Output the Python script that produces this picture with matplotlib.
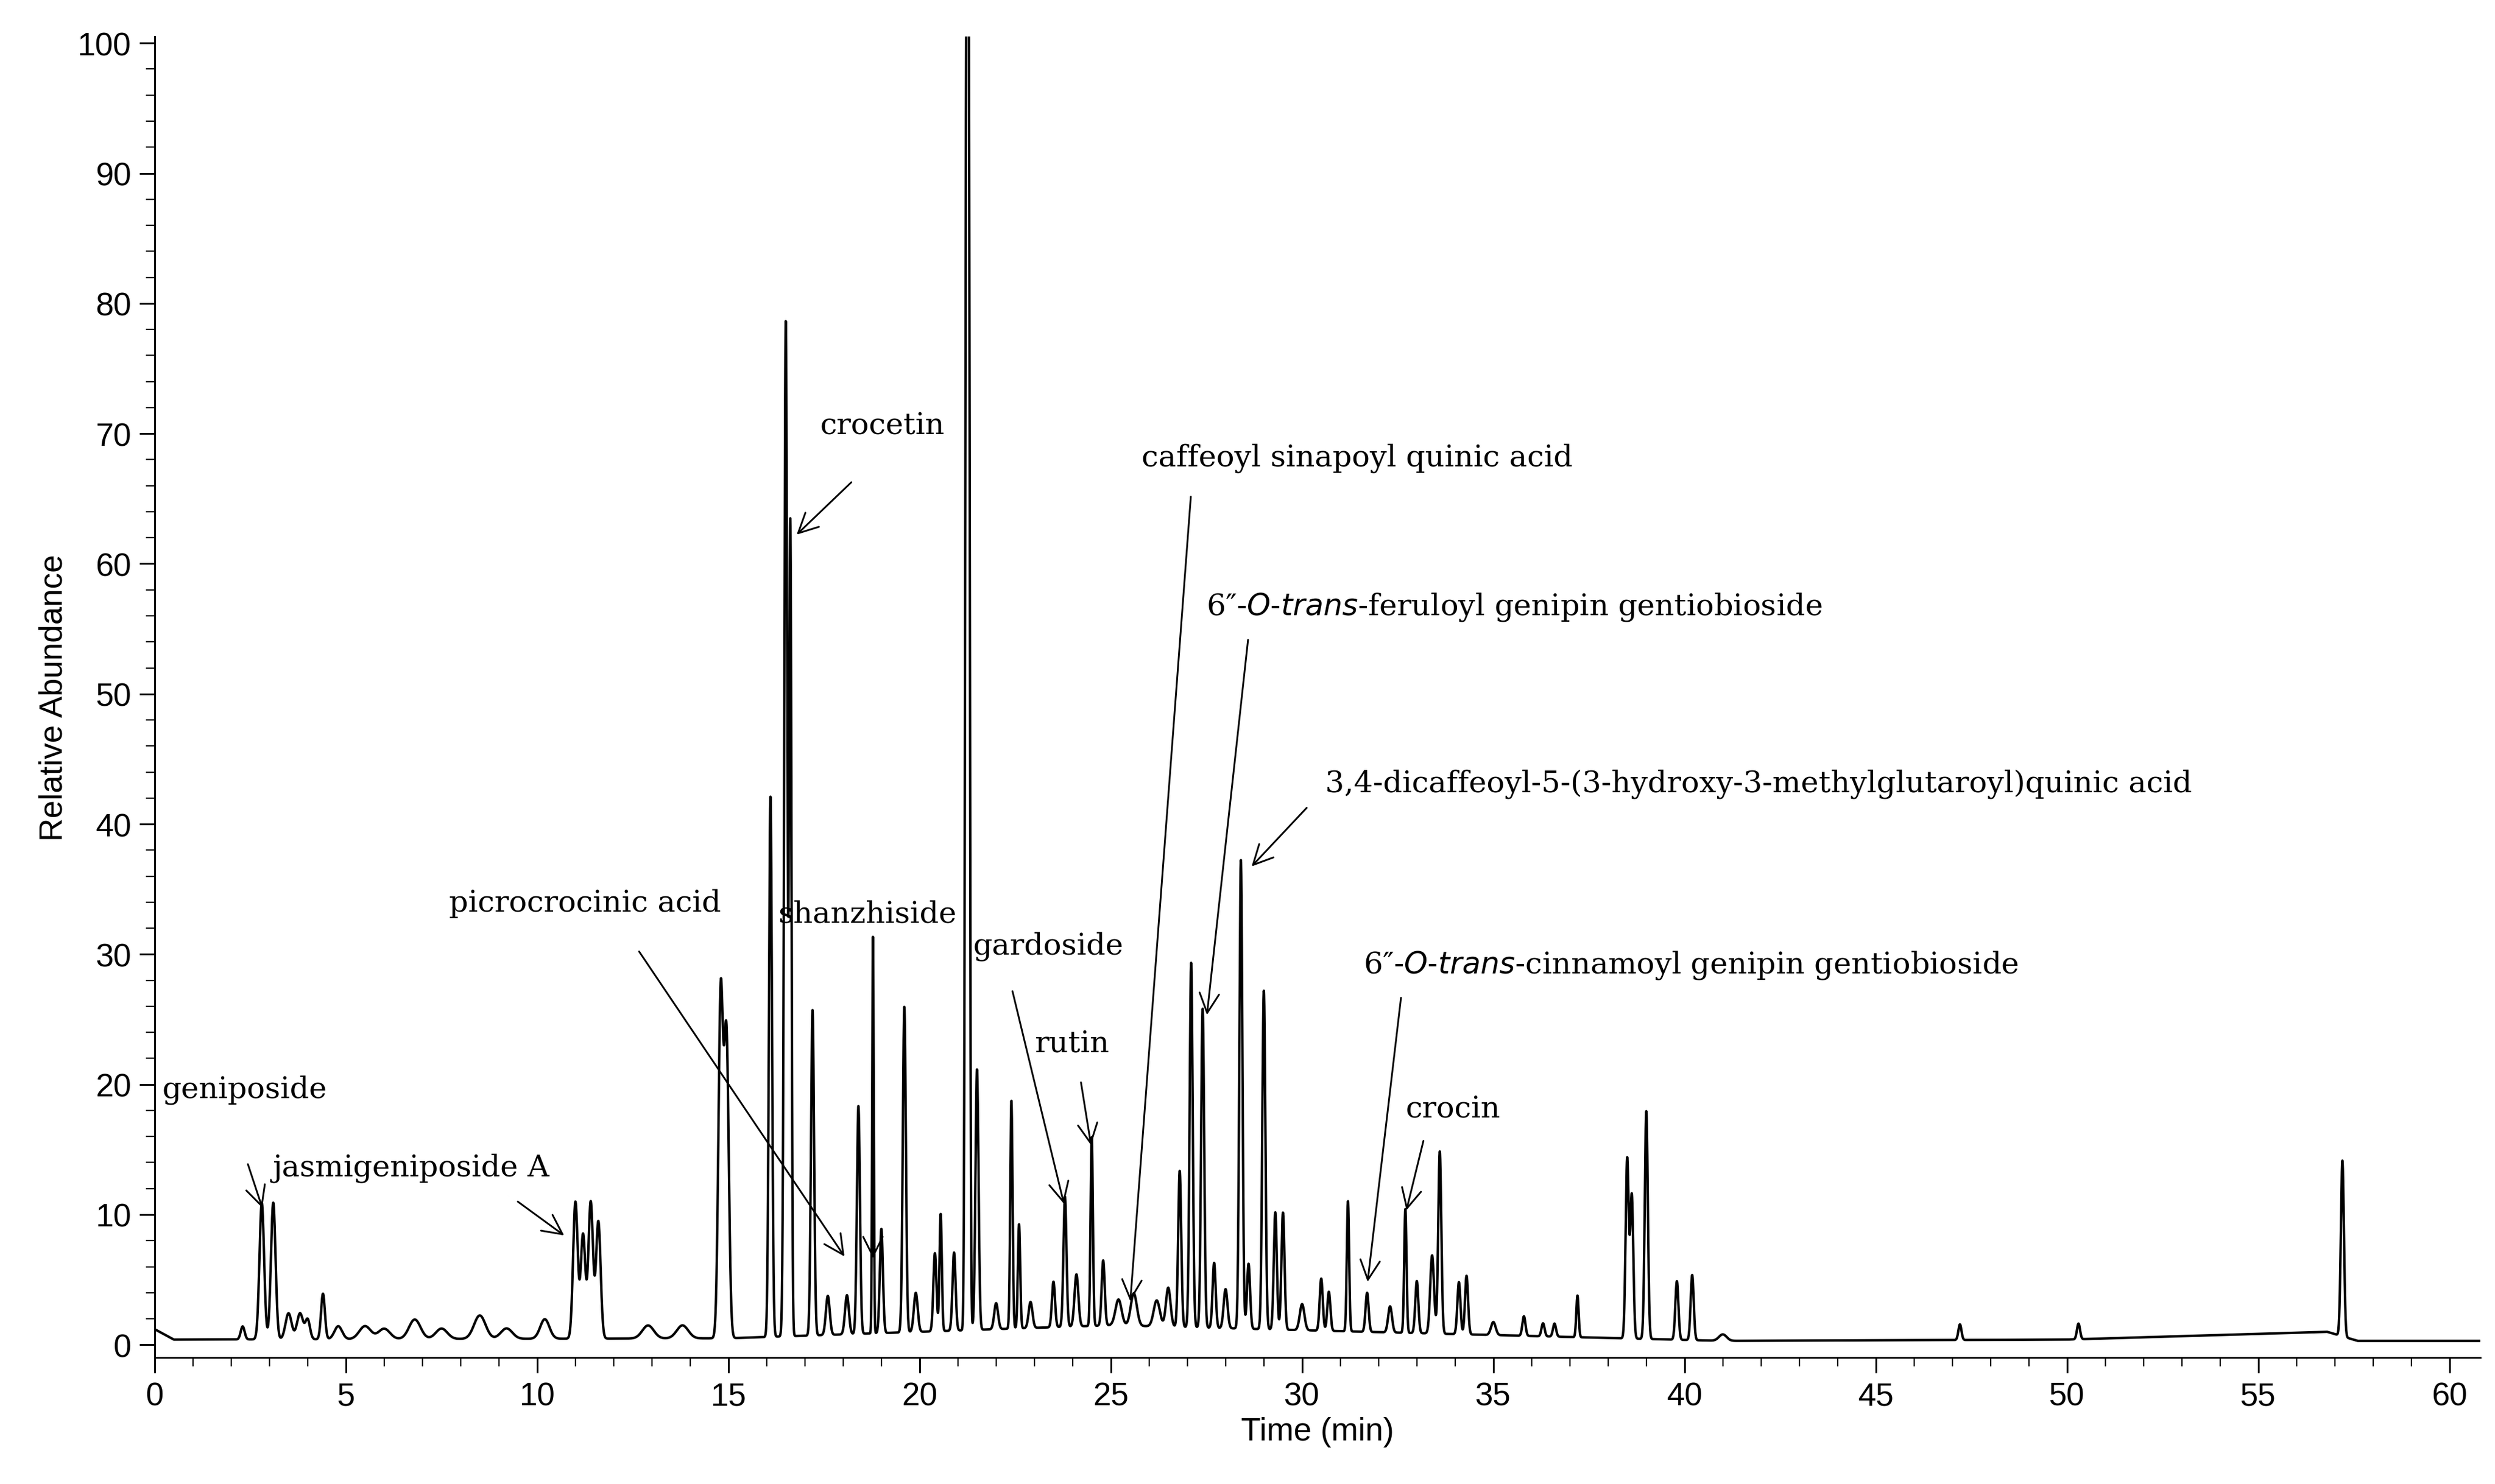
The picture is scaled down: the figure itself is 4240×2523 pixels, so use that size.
import numpy as np
import matplotlib
matplotlib.use('Agg')
import matplotlib.pyplot as plt
from matplotlib.ticker import MultipleLocator

# --- peak table (time min, relative abundance, width min) ---
peak_times = [2.3, 2.8, 3.1, 3.5, 3.8, 4.0, 4.4, 4.8, 5.5, 6.0, 6.8, 7.5, 8.5, 9.2, 10.2,
              11.0, 11.2, 11.4, 11.6, 12.9, 13.8, 14.8, 14.95, 16.1, 16.5, 16.62, 17.2, 17.6,
              18.1, 18.4, 18.78, 19.0, 19.6, 19.9, 20.4, 20.55, 20.9, 21.22, 21.28, 21.5, 22.0,
              22.4, 22.6, 22.9, 23.5, 23.8, 24.1, 24.5, 24.8, 25.2, 25.6, 26.2, 26.5, 26.8,
              27.1, 27.4, 27.7, 28.0, 28.4, 28.6, 29.0, 29.3, 29.5, 30.0, 30.5, 30.7, 31.2,
              31.7, 32.3, 32.7, 33.0, 33.4, 33.6, 34.1, 34.3, 35.0, 35.8, 36.3, 36.6, 37.2,
              38.5, 38.62, 39.0, 39.8, 40.2, 41.0, 47.2, 50.3, 57.2]
peak_heights = [1.0, 10.5, 10.5, 2.0, 2.0, 1.5, 3.5, 1.0, 1.0, 0.8, 1.5, 0.8, 1.8, 0.8, 1.5,
                10.5, 8.0, 10.5, 9.0, 1.0, 1.0, 26.5, 23.0, 41.5, 78.0, 62.0, 25.0, 3.0,
                3.0, 17.5, 30.5, 8.0, 25.0, 3.0, 6.0, 9.0, 6.0, 90.0, 100.0, 20.0, 2.0,
                17.5, 8.0, 2.0, 3.5, 10.0, 4.0, 14.5, 5.0, 2.0, 2.5, 2.0, 3.0, 12.0,
                28.0, 24.5, 5.0, 3.0, 36.0, 5.0, 26.0, 9.0, 9.0, 2.0, 4.0, 3.0, 10.0,
                3.0, 2.0, 9.5, 4.0, 6.0, 14.0, 4.0, 4.5, 1.0, 1.5, 1.0, 1.0, 3.2,
                13.8, 11.0, 17.5, 4.5, 5.0, 0.5, 1.2, 1.2, 13.5]
peak_widths = [0.05, 0.06, 0.06, 0.08, 0.08, 0.06, 0.05, 0.1, 0.15, 0.15, 0.15, 0.15, 0.15, 0.15, 0.12,
               0.06, 0.06, 0.06, 0.06, 0.15, 0.15, 0.06, 0.06, 0.04, 0.04, 0.03, 0.04, 0.05,
               0.05, 0.04, 0.02, 0.04, 0.04, 0.05, 0.04, 0.03, 0.04, 0.03, 0.03, 0.04, 0.05,
               0.03, 0.03, 0.05, 0.04, 0.04, 0.05, 0.03, 0.04, 0.08, 0.08, 0.08, 0.06, 0.04,
               0.04, 0.04, 0.04, 0.05, 0.04, 0.04, 0.04, 0.04, 0.04, 0.06, 0.04, 0.04, 0.03,
               0.04, 0.05, 0.03, 0.04, 0.05, 0.04, 0.04, 0.04, 0.06, 0.04, 0.04, 0.04, 0.03,
               0.04, 0.04, 0.04, 0.04, 0.04, 0.1, 0.04, 0.04, 0.04]
baseline_t = [0.0, 0.5, 15.0, 25.0, 41.0, 50.0, 56.8, 57.6, 60.8]
baseline_v = [1.2, 0.4, 0.5, 1.5, 0.3, 0.4, 1.0, 0.3, 0.3]

labels = [
    # text, text xy, arrow start, arrow end
    ("geniposide", (0.2, 18.5), (2.4, 14.2), (2.85, 10.2)),
    ("jasmigeniposide A", (3.1, 12.5), (9.4, 11.2), (10.8, 8.2)),
    ("picrocrocinic acid", (7.7, 32.8), (12.6, 30.5), (18.1, 6.5)),
    ("shanzhiside", (16.3, 32.0), (18.78, 30.5), (18.78, 6.3)),
    ("crocetin", (17.4, 69.5), (18.3, 66.5), (16.7, 62.0)),
    ("gardoside", (21.4, 29.5), (22.4, 27.5), (23.8, 10.5)),
    ("rutin", (23.0, 22.0), (24.2, 20.5), (24.5, 15.0)),
    ("caffeoyl sinapoyl quinic acid", (25.8, 67.0), (27.1, 65.5), (25.5, 3.0)),
    ("6\u2033-$\\it{O}$-$\\it{trans}$-feruloyl genipin gentiobioside", (27.5, 55.5), (28.6, 54.5), (27.5, 25.0)),
    ("3,4-dicaffeoyl-5-(3-hydroxy-3-methylglutaroyl)quinic acid", (30.6, 42.0), (30.2, 41.5), (28.6, 36.5)),
    ("6\u2033-$\\it{O}$-$\\it{trans}$-cinnamoyl genipin gentiobioside", (31.6, 28.0), (32.6, 27.0), (31.7, 4.5)),
    ("crocin", (32.7, 17.0), (33.2, 16.0), (32.7, 10.0)),
]

t = np.linspace(0, 60.8, 20000)
signal = np.interp(t, baseline_t, baseline_v)
for c, h, w in zip(peak_times, peak_heights, peak_widths):
    signal = signal + h * np.exp(-0.5 * ((t - c) / w) ** 2)

fig = plt.figure(figsize=(15.6, 9.286), dpi=271.8)
ax = fig.add_axes([0.062, 0.085, 0.932, 0.890])
ax.plot(t, signal, color='black', lw=1.1)

ax.set_xlim(0, 60.8)
ax.set_ylim(-1, 100.5)
ax.xaxis.set_major_locator(MultipleLocator(5))
ax.xaxis.set_minor_locator(MultipleLocator(1))
ax.yaxis.set_major_locator(MultipleLocator(10))
ax.yaxis.set_minor_locator(MultipleLocator(2))
ax.tick_params(which='major', direction='out', length=7, labelsize=14.5)
ax.tick_params(which='minor', direction='out', length=4)
for lab in ax.get_xticklabels() + ax.get_yticklabels():
    lab.set_family('Liberation Sans')
for s in ['top', 'right']:
    ax.spines[s].set_visible(False)
ax.set_xlabel("Time (min)", fontsize=14.5, family='Liberation Sans', labelpad=2)
ax.set_ylabel("Relative Abundance", fontsize=14.5, family='Liberation Sans')

for text, txy, start, end in labels:
    ax.text(txy[0], txy[1], text, family='DejaVu Serif', fontsize=13.5, va='bottom')
    ax.annotate("", xy=end, xytext=start,
                arrowprops=dict(arrowstyle='->', color='black', lw=0.8, mutation_scale=22))

fig.savefig("out.png", dpi=271.8)
